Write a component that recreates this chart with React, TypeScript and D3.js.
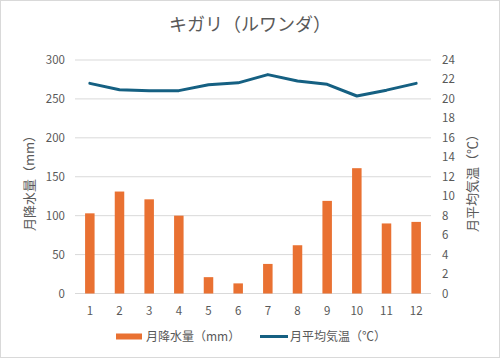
import React from "react";
import * as d3 from "d3";

const months = ["1", "2", "3", "4", "5", "6", "7", "8", "9", "10", "11", "12"];
const rainfall = [103, 131, 121, 100, 21, 13, 38, 62, 119, 161, 90, 92];
const temperature = [21.6, 20.95, 20.85, 20.85, 21.45, 21.65, 22.5, 21.85, 21.5, 20.3, 20.9, 21.6];
const leftTicks = [0, 50, 100, 150, 200, 250, 300];
const rightTicks = [0, 2, 4, 6, 8, 10, 12, 14, 16, 18, 20, 22, 24];

const W = 500;
const H = 358;
const FONT = "'Noto Sans CJK JP', 'Noto Sans', sans-serif";
const TXT = "#595959";

export default function App() {
  const left = 75, right = 431, top = 60, bottom = 293.5;
  const x = d3.scaleBand<string>().domain(months).range([left, right]).padding(0);
  const yL = d3.scaleLinear().domain([0, 300]).range([bottom, top]);
  const yR = d3.scaleLinear().domain([0, 24]).range([bottom, top]);
  const barW = 9.5;
  const line = d3
    .line<number>()
    .x((_, i) => (x(months[i]) as number) + x.bandwidth() / 2)
    .y((d) => yR(d))
    .curve(d3.curveLinear);

  return (
    <svg
      width={W}
      height={H}
      style={{ position: "absolute", left: 0, top: 0 }}
      fontFamily={FONT}
    >
      <rect x={0.5} y={0.5} width={W - 1} height={H - 1} fill="#fff" stroke="#d9d9d9" />
      <text x={W / 2} y={31} textAnchor="middle" fontSize={18} fill={TXT}>
        キガリ（ルワンダ）
      </text>
      {leftTicks.map((t) => (
        <g key={t}>
          <line x1={left} x2={right} y1={yL(t)} y2={yL(t)} stroke="#d9d9d9" strokeWidth={1} />
          <text x={65} y={yL(t) + 4} textAnchor="end" fontSize={11.5} fill={TXT}>
            {t}
          </text>
        </g>
      ))}
      {rightTicks.map((t) => (
        <text key={t} x={442} y={yR(t) + 4} textAnchor="start" fontSize={11.5} fill={TXT}>
          {t}
        </text>
      ))}
      {months.map((m) => (
        <text
          key={m}
          x={(x(m) as number) + x.bandwidth() / 2}
          y={bottom + 21}
          textAnchor="middle"
          fontSize={11.5}
          fill={TXT}
        >
          {m}
        </text>
      ))}
      {rainfall.map((v, i) => (
        <rect
          key={i}
          x={(x(months[i]) as number) + x.bandwidth() / 2 - barW / 2}
          y={yL(v)}
          width={barW}
          height={bottom - yL(v)}
          fill="#E97132"
        />
      ))}
      <path d={line(temperature) || ""} fill="none" stroke="#156082" strokeWidth={3} strokeLinejoin="round" strokeLinecap="round" />
      <text
        transform={`translate(34, 180) rotate(-90)`}
        textAnchor="middle"
        fontSize={13}
        fill={TXT}
      >
        月降水量（mm）
      </text>
      <text
        transform={`translate(477, 180) rotate(-90)`}
        textAnchor="middle"
        fontSize={13}
        fill={TXT}
      >
        月平均気温（℃）
      </text>
      <rect x={116} y={333.5} width={26} height={6} fill="#E97132" />
      <text x={146} y={341} fontSize={12} fill={TXT}>
        月降水量（mm）
      </text>
      <line x1={260} x2={288} y1={336.5} y2={336.5} stroke="#156082" strokeWidth={3} />
      <text x={290} y={341} fontSize={12} fill={TXT}>
        月平均気温（℃）
      </text>
    </svg>
  );
}
